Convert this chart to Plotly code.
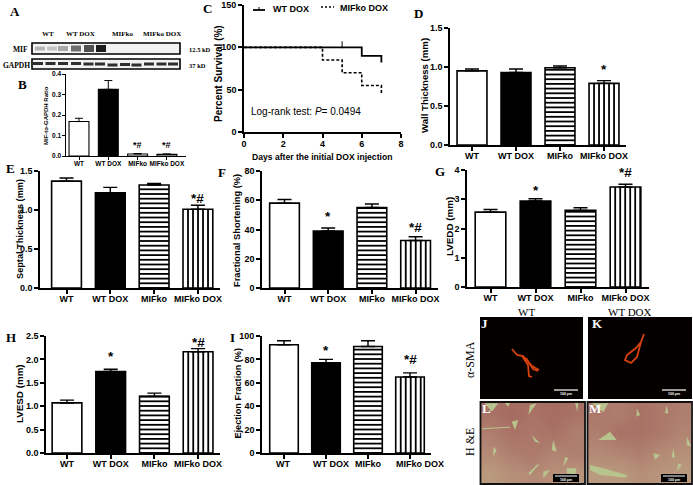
import plotly.graph_objects as go

W, H = 693, 485
groups = ["WT", "WT DOX", "MIFko", "MIFko DOX"]

wall_mean = [0.95, 0.93, 0.99, 0.79]
wall_err = [0.025, 0.045, 0.022, 0.035]
septal_mean = [1.37, 1.22, 1.32, 1.01]
septal_err = [0.04, 0.07, 0.02, 0.05]
fs_mean = [58, 39, 55, 32.5]
fs_err = [2.5, 2, 2.5, 2.5]
lvedd_mean = [2.56, 2.94, 2.62, 3.42]
lvedd_err = [0.09, 0.08, 0.09, 0.09]
lvesd_mean = [1.07, 1.74, 1.21, 2.165]
lvesd_err = [0.06, 0.05, 0.07, 0.065]
ef_mean = [92.5, 77, 91, 65]
ef_err = [3.5, 3, 5, 3.5]
ratio_mean = [0.168, 0.325, 0.01, 0.008]
ratio_err = [0.016, 0.043, 0.002, 0.002]

days_wt = [0, 5, 6, 6, 7, 7]
surv_wt = [100, 100, 100, 90, 90, 82]
days_mif = [0, 4, 4, 5, 5, 6, 6, 7, 7]
surv_mif = [100, 100, 85, 85, 70, 70, 55, 55, 45]

FONT = "Liberation Sans"
SERIF = "Liberation Serif"
shapes, notes = [], []
fig = go.Figure()


def px_x(x):
    return x / W


def px_y(y):
    return 1 - y / H


def text(x, y, s, size=10, color="black", family=SERIF, bold=True, angle=0, anchor="center"):
    if bold:
        s = "<b>" + s + "</b>"
    notes.append(dict(x=x, y=y, xref="x20", yref="y20", text=s, showarrow=False, textangle=angle,
                      xanchor=anchor, yanchor="middle", font=dict(size=size, color=color, family=family)))


layout_axes = {}


def bar_panel(idx, vals, errs, x0, xend, c0, pitch, top, bottom, ymax, dtick, title, title_pos, title_size, stars,
              bw=0.68, tsize=9, ysize=9, tick=4, lw=1.6, tickf=None, label_x=None, star_size=13.5, shift=-3,
              stripes=True):
    xa, ya = f"x{idx}", f"y{idx}"
    fig.add_trace(go.Bar(
        x=list(range(4)), y=vals, width=bw, xaxis=xa, yaxis=ya, showlegend=False,
        marker=dict(color=["white", "black", "white", "white"], line=dict(color="black", width=lw)),
        error_y=dict(type="data", array=errs, arrayminus=[0, 0, 0, 0], symmetric=False,
                     color="black", thickness=lw * 0.9, width=7 if lw > 1.2 else 4),
    ))
    if stripes:
        # fill hatching for the two MIFko bars, spaced in screen pixels and clipped to each bar's height
        units_per_px = ymax / (bottom - top)
        y = 0.0
        while y < vals[2]:
            shapes.append(dict(type="line", xref=xa, yref=ya, x0=2 - bw / 2, x1=2 + bw / 2, y0=y, y1=y,
                               line=dict(color="black", width=1.8)))
            y += 4.7 * units_per_px
        x = 3 - bw / 2 + 5 / pitch
        while x < 3 + bw / 2:
            shapes.append(dict(type="line", xref=xa, yref=ya, x0=x, x1=x, y0=0, y1=vals[3],
                               line=dict(color="black", width=1.8)))
            x += 5 / pitch
    common = dict(showline=True, linecolor="black", linewidth=lw, ticks="outside", ticklen=tick,
                  tickwidth=lw, tickcolor="black", showgrid=False, zeroline=False, automargin=False)
    labels = [f"<b>{g}</b>" for g in groups] if label_x is None else [""] * 4
    layout_axes["xaxis" + str(idx)] = dict(
        domain=[px_x(x0), px_x(xend)], anchor=ya, range=[(x0 - c0) / pitch, (xend - c0) / pitch],
        tickvals=list(range(4)), ticktext=labels, ticklabelstandoff=shift,
        tickfont=dict(size=tsize, family=FONT, color="black"), tickangle=0, **common)
    layout_axes["yaxis" + str(idx)] = dict(
        domain=[px_y(bottom), px_y(top)], anchor=xa, range=[0, ymax], dtick=dtick,
        tickformat=tickf, tickfont=dict(size=ysize, family=FONT, color="black", weight="bold"), **common)
    text(title_pos[0], title_pos[1], title, title_size, family=FONT, angle=-90)
    if label_x is not None:
        for g, x in zip(groups, label_x):
            text(x, bottom + 11, g, tsize, family=FONT)
    for i, y, s in stars:
        notes.append(dict(x=i, y=y, xref=xa, yref=ya, text=f"<b>{s}</b>", showarrow=False, yshift=-2,
                          xanchor="center", yanchor="middle",
                          font=dict(size=star_size, family=FONT, color="black")))


bar_panel(9, ratio_mean, ratio_err, 66, 186, 79, 29.3, 74, 156, 0.4, 0.1, "MIF-to-GAPDH Ratio", (46, 116), 6,
          [(1, 0.405, "*"), (2, 0.063, "*#"), (3, 0.063, "*#")], tsize=6.5, ysize=6.5, tick=2.5, lw=1.1,
          tickf=".1f", star_size=9, shift=-1, stripes=False)
bar_panel(2, wall_mean, wall_err, 450, 626, 472, 44, 28, 145, 1.5, 0.5, "Wall Thickness (mm)", (424, 86), 9.6,
          [(3, 1.0, "*")], tickf=".1f")
bar_panel(3, septal_mean, septal_err, 40, 220, 66.5, 43.8, 171, 288, 1.5, 0.5, "Septal Thickness (mm)", (20, 229), 9.2,
          [(3, 1.17, "*#")], tickf=".1f")
bar_panel(4, fs_mean, fs_err, 262, 438, 284.5, 43.7, 171, 288, 80, 20, "Fractional Shortening (%)", (237, 231), 9.3,
          [(1, 50.6, "*"), (3, 43, "*#")])
bar_panel(5, lvedd_mean, lvedd_err, 467, 649, 490.5, 45, 170, 287, 4, 1, "LVEDD (mm)", (449, 227), 9.8,
          [(1, 3.38, "*"), (3, 4.0, "*#")])
bar_panel(6, lvesd_mean, lvesd_err, 46, 220, 67, 43.7, 336, 453, 2.5, 0.5, "LVESD (mm)", (19, 394), 9.8,
          [(1, 2.1, "*"), (3, 2.41, "*#")], tickf=".1f")
bar_panel(7, ef_mean, ef_err, 262, 431, 284, 42, 336, 453, 100, 20, "Ejection Fraction (%)", (237, 393.5), 9.1,
          [(1, 89.7, "*"), (3, 82, "*#")], label_x=[283, 331, 368, 420])

# Panel C: survival
fig.add_trace(go.Scatter(x=days_wt, y=surv_wt, mode="lines", name="WT DOX", xaxis="x8", yaxis="y8",
                         line=dict(color="black", width=1.8), showlegend=False))
fig.add_trace(go.Scatter(x=days_mif, y=surv_mif, mode="lines", name="MIFko DOX", xaxis="x8", yaxis="y8",
                         line=dict(color="black", width=1.6, dash="3px,2px"), showlegend=False))
fig.add_trace(go.Scatter(x=[5], y=[103], mode="markers", xaxis="x8", yaxis="y8", showlegend=False,
                         marker=dict(symbol="line-ns", size=5, line=dict(color="black", width=1))))
c_common = dict(showline=True, linecolor="black", linewidth=1.6, ticks="outside", ticklen=4, tickwidth=1.6,
                tickcolor="black", showgrid=False, zeroline=False, automargin=False)
layout_axes["xaxis8"] = dict(domain=[px_x(244), px_x(401)], anchor="y8", range=[0, 8], dtick=2, ticklabelstandoff=-2,
                             tickfont=dict(size=9, family=FONT, color="black", weight="bold"), **c_common)
layout_axes["yaxis8"] = dict(domain=[px_y(132), px_y(5)], anchor="x8", range=[0, 150], dtick=50,
                             tickfont=dict(size=9, family=FONT, color="black", weight="bold"), **c_common)
text(322, 157, "Days after the initial DOX injection", 8.6, family=FONT)
text(218, 74, "Percent Survival (%)", 10, family=FONT, angle=-90)
notes.append(dict(x=249, y=111, xref="x20", yref="y20", xanchor="left", yanchor="middle", showarrow=False,
                  text="Log-rank test: <i>P</i>= 0.0494", font=dict(size=10, family=FONT, color="black")))
text(271, 9, "WT DOX", 9, family=FONT, anchor="left")
text(338, 8, "MIFko DOX", 9, family=FONT, anchor="left")
shapes.append(dict(type="line", xref="x20", yref="y20", x0=253, x1=265, y0=10, y1=10, line=dict(color="black", width=1.8)))
shapes.append(dict(type="line", xref="x20", yref="y20", x0=259, x1=259, y0=7, y1=10, line=dict(color="black", width=1)))
shapes.append(dict(type="line", xref="x20", yref="y20", x0=321, x1=334, y0=7, y1=7, line=dict(color="black", width=1.4, dash="2px,2px")))

# Overlay canvas
layout_axes["xaxis20"] = dict(domain=[0, 1], range=[0, W], visible=False, anchor="y20")
layout_axes["yaxis20"] = dict(domain=[0, 1], range=[H, 0], visible=False, anchor="x20")

# Panel letters
panel_letters = [("A", 15, 11), ("B", 22, 84), ("C", 207, 8), ("D", 418, 13), ("E", 10, 168), ("F", 222, 172),
                 ("G", 440, 171), ("H", 11, 337), ("I", 232, 337)]
for s, x, y in panel_letters:
    text(x, y, s, 13)

# Western blot
for label, x in [("WT", 48), ("WT DOX", 80), ("MIFko", 123), ("MIFko DOX", 162)]:
    text(x, 34, label, 7)
text(20, 49, "MIF", 7.5)
text(16, 65, "GAPDH", 7.5)
text(200, 49, "12.5 kD", 6.5)
text(197, 65, "37 kD", 6.5)
blot_boxes = [(32, 43, 180, 54), (32, 59, 180, 69)]
for b in blot_boxes:
    shapes.append(dict(type="rect", xref="x20", yref="y20", x0=b[0], y0=b[1], x1=b[2], y1=b[3],
                       fillcolor="#f2f2f2", line=dict(color="black", width=1.6)))
mif_lanes = [40, 52, 63, 76, 89, 101]
mif_shades = ["#b5b5b5", "#c4c4c4", "#a8a8a8", "#6e6e6e", "#505050", "#1c1c1c"]
mif_heights = [4, 4, 5, 6, 7, 7]
for x, c, h in zip(mif_lanes, mif_shades, mif_heights):
    shapes.append(dict(type="rect", xref="x20", yref="y20", x0=x - 5, x1=x + 5, y0=48.5 - h / 2, y1=48.5 + h / 2,
                       fillcolor=c, line=dict(width=0)))
gapdh_lanes = [38, 50.5, 63, 76, 88.5, 100, 112.5, 125, 136.5, 149, 161.5, 173]
gapdh_y = [63.5, 63.5, 63.5, 63.5, 64, 64, 65, 64.5, 65, 64, 64, 64]
for x, y in zip(gapdh_lanes, gapdh_y):
    shapes.append(dict(type="rect", xref="x20", yref="y20", x0=x - 5, x1=x + 5, y0=y - 1.5, y1=y + 1.5,
                       fillcolor="#2e2e2e", line=dict(width=0)))

# Fluorescence panels J, K
text(526, 312, "WT", 11, bold=False)
text(630, 312, "WT DOX", 11, bold=False)
text(470, 360, "α-SMA", 12, angle=-90, bold=False)
text(470, 442, "H &amp;E", 12, angle=-90, bold=False)
for x0, x1 in [(480, 583), (588, 692)]:
    shapes.append(dict(type="rect", xref="x20", yref="y20", x0=x0, x1=x1, y0=317, y1=399, fillcolor="#050000",
                       line=dict(width=0), layer="below"))
vessel_j = [[(512, 349), (517, 355), (523, 356), (532, 366), (539, 370)],
            [(522, 356), (528, 365), (529, 376), (532, 377)], [(526, 358), (533, 369), (538, 371)]]
vessel_k = [[(644, 334), (641, 342), (636, 348), (627, 355), (625, 360), (631, 363), (637, 357), (641, 342)]]
for seg in vessel_j + vessel_k:
    fig.add_trace(go.Scatter(x=[p[0] for p in seg], y=[p[1] for p in seg], mode="lines", xaxis="x20", yaxis="y20",
                             showlegend=False, hoverinfo="skip", line=dict(color="#d9420c", width=1.8)))
for x0, x1, y in [(554, 578, 390), (662, 686, 390)]:
    shapes.append(dict(type="line", xref="x20", yref="y20", x0=x0, x1=x1, y0=y, y1=y, line=dict(color="white", width=1.2)))
    text((x0 + x1) / 2, y + 4, "100 μm", 3.5, color="white", family=FONT)

# H&E panels
tissue_l = [[0.1, 0.0, 0.1, 0.0, 0.1], [0.3, 0.1, 0.2, 0.1, 0.3], [0.5, 0.3, 0.2, 0.4, 0.3], [0.8, 0.6, 0.5, 0.6, 0.7]]
tissue_m = [[0.2, 0.3, 0.1, 0.2, 0.3], [0.3, 0.1, 0.1, 0.2, 0.4], [0.5, 0.4, 0.3, 0.5, 0.6], [0.8, 0.8, 0.6, 0.7, 0.8]]
scale = [[0, "#a66c62"], [0.5, "#b48a76"], [1, "#bca583"]]
for t, x0, x1 in [(tissue_l, 481, 585), (tissue_m, 588, 691)]:
    dx, dy = (x1 - x0) / 5, 82 / 4
    xs = [x0 + dx * (i + 0.5) for i in range(5)]
    ys = [402 + dy * (j + 0.5) for j in range(4)]
    fig.add_trace(go.Heatmap(z=t, x=xs, y=ys, xaxis="x20", yaxis="y20", zmin=0, zmax=1, zsmooth="best",
                             colorscale=scale, showscale=False, hoverinfo="skip"))
gaps_l = [[(75, 235), (115, 235), (95, 260)], [(135, 235), (150, 232), (145, 245)], [(210, 240), (230, 235), (205, 270)],
          [(345, 232), (355, 232), (352, 260)], [(155, 290), (175, 285), (165, 315)], [(100, 365), (110, 375), (100, 395)],
          [(280, 345), (290, 380), (275, 375)], [(230, 420), (240, 415), (210, 450), (205, 445)],
          [(320, 430), (350, 430), (345, 450), (320, 445)], [(250, 440), (270, 435), (250, 460)],
          [(315, 395), (325, 400), (310, 425)], [(65, 310), (150, 305), (150, 308), (65, 313)],
          [(215, 330), (240, 355), (225, 350)]]
gaps_m = [[(395, 235), (445, 235), (430, 262)], [(450, 320), (470, 345), (415, 345)], [(530, 250), (540, 270), (530, 275)],
          [(390, 420), (430, 430), (500, 450), (500, 458), (420, 450), (390, 435)], [(680, 335), (695, 365), (680, 360)],
          [(620, 240), (625, 265), (615, 265)], [(655, 415), (665, 420), (650, 440)], [(580, 385), (600, 390), (585, 405)],
          [(640, 370), (645, 400), (635, 395)]]
for g in gaps_l + gaps_m:
    path = "M " + " L ".join(f"{460 + a / 3:.1f},{325 + b / 3:.1f}" for a, b in g) + " Z"
    shapes.append(dict(type="path", path=path, xref="x20", yref="y20", fillcolor="#b8c48e", line=dict(width=0)))
for x0, x1 in [(480.5, 585), (587.5, 692)]:
    shapes.append(dict(type="rect", xref="x20", yref="y20", x0=x0, x1=x1, y0=402, y1=484, fillcolor="rgba(0,0,0,0)",
                       line=dict(color="#111111", width=1.8)))
for x0 in [553, 661]:
    shapes.append(dict(type="rect", xref="x20", yref="y20", x0=x0, x1=x0 + 26, y0=474, y1=482, fillcolor="black", line=dict(width=0)))
    shapes.append(dict(type="line", xref="x20", yref="y20", x0=x0 + 2, x1=x0 + 24, y0=476, y1=476, line=dict(color="white", width=1)))
    text(x0 + 13, 479.5, "100 μm", 3.5, color="white", family=FONT)

for s, x, y in [("J", 484, 323), ("K", 597, 323), ("L", 486, 408), ("M", 595, 408)]:
    text(x, y, s, 13, color="white")

fig.update_layout(width=W, height=H, margin=dict(l=0, r=0, t=0, b=0), paper_bgcolor="white",
                  plot_bgcolor="rgba(0,0,0,0)", shapes=shapes, annotations=notes, bargap=0.3, **layout_axes)
fig.write_html("out.html", config=dict(displayModeBar=False),
               post_script="document.body.style.margin='0';document.documentElement.style.overflow='hidden';")
